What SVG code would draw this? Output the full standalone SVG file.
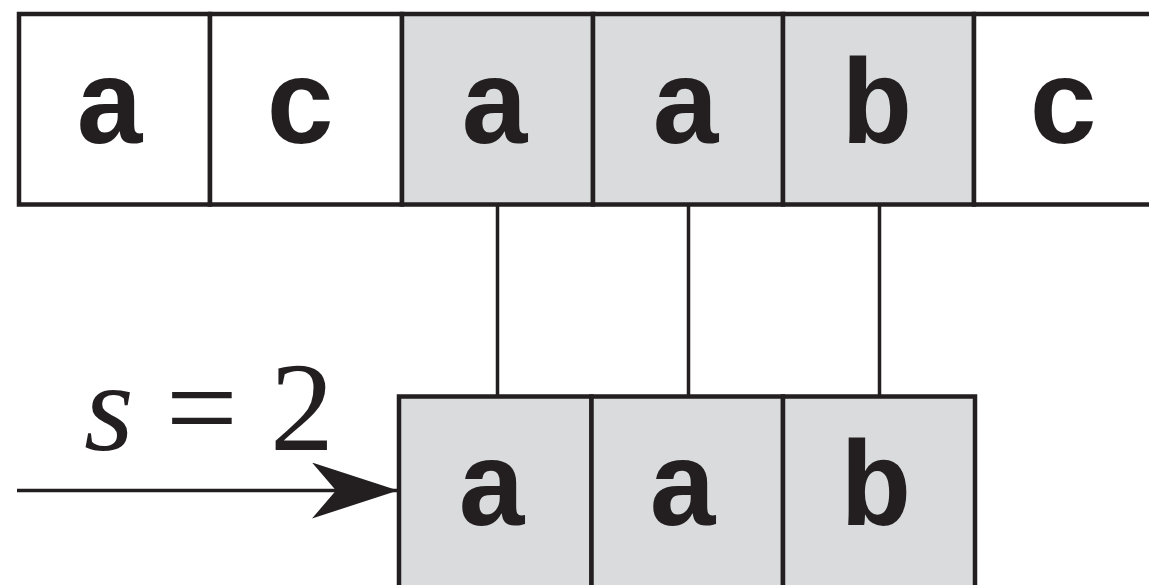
<svg xmlns="http://www.w3.org/2000/svg" width="1149" height="585" viewBox="0 0 1149 585">
<defs>
<style>
.cell{stroke:#231f20;stroke-width:4.5;}
.w{fill:#ffffff;}
.g{fill:#d9dbdc;}
.conn{stroke:#231f20;stroke-width:3.5;fill:none;}
.ch{font-family:"Courier New","Liberation Mono","DejaVu Sans Mono",monospace;font-weight:bold;font-size:120px;fill:#231f20;text-anchor:middle;}
.lbl{font-family:"Times New Roman","Liberation Serif","DejaVu Serif",serif;font-size:128px;fill:#231f20;}
</style>
<marker id="ah" markerUnits="userSpaceOnUse" viewBox="0 0 86 56" refX="86" refY="28" markerWidth="86" markerHeight="56" orient="auto">
<path d="M0,0 L86,28 L0,56 L24,28 Z" fill="#231f20"/>
</marker>
</defs>
<rect width="1149" height="585" fill="#ffffff"/>
<g id="text-row">
<g id="t0"><rect class="cell w" x="19" y="14" width="191" height="190.5"/><text class="ch" x="110" y="143">a</text></g>
<g id="t1"><rect class="cell w" x="210" y="14" width="192" height="190.5"/><text class="ch" x="301" y="143">c</text></g>
<g id="t2"><rect class="cell g" x="402" y="14" width="191" height="190.5"/><text class="ch" x="495" y="143">a</text></g>
<g id="t3"><rect class="cell g" x="593" y="14" width="190" height="190.5"/><text class="ch" x="686" y="143">a</text></g>
<g id="t4"><rect class="cell g" x="783" y="14" width="191" height="190.5"/><text class="ch" x="877" y="143">b</text></g>
<g id="t5"><rect class="cell w" x="974" y="14" width="200" height="190.5"/><text class="ch" x="1064" y="143">c</text></g>
</g>
<g id="pattern-row">
<g id="p0"><rect class="cell g" x="399" y="396.5" width="192.5" height="200"/><text class="ch" x="492" y="525">a</text></g>
<g id="p1"><rect class="cell g" x="591.5" y="396.5" width="191.5" height="200"/><text class="ch" x="683" y="525">a</text></g>
<g id="p2"><rect class="cell g" x="783" y="396.5" width="192" height="200"/><text class="ch" x="876" y="525">b</text></g>
</g>
<g id="connectors">
<line class="conn" x1="497.5" y1="206" x2="497.5" y2="396"/>
<line class="conn" x1="688.5" y1="206" x2="688.5" y2="396"/>
<line class="conn" x1="879.5" y1="206" x2="879.5" y2="396"/>
<line class="conn" x1="17" y1="490.5" x2="398" y2="490.5" marker-end="url(#ah)"/>
</g>
<g id="shift-label">
<text class="lbl" x="84" y="450"><tspan font-style="italic">s</tspan> = 2</text>
</g>
</svg>
